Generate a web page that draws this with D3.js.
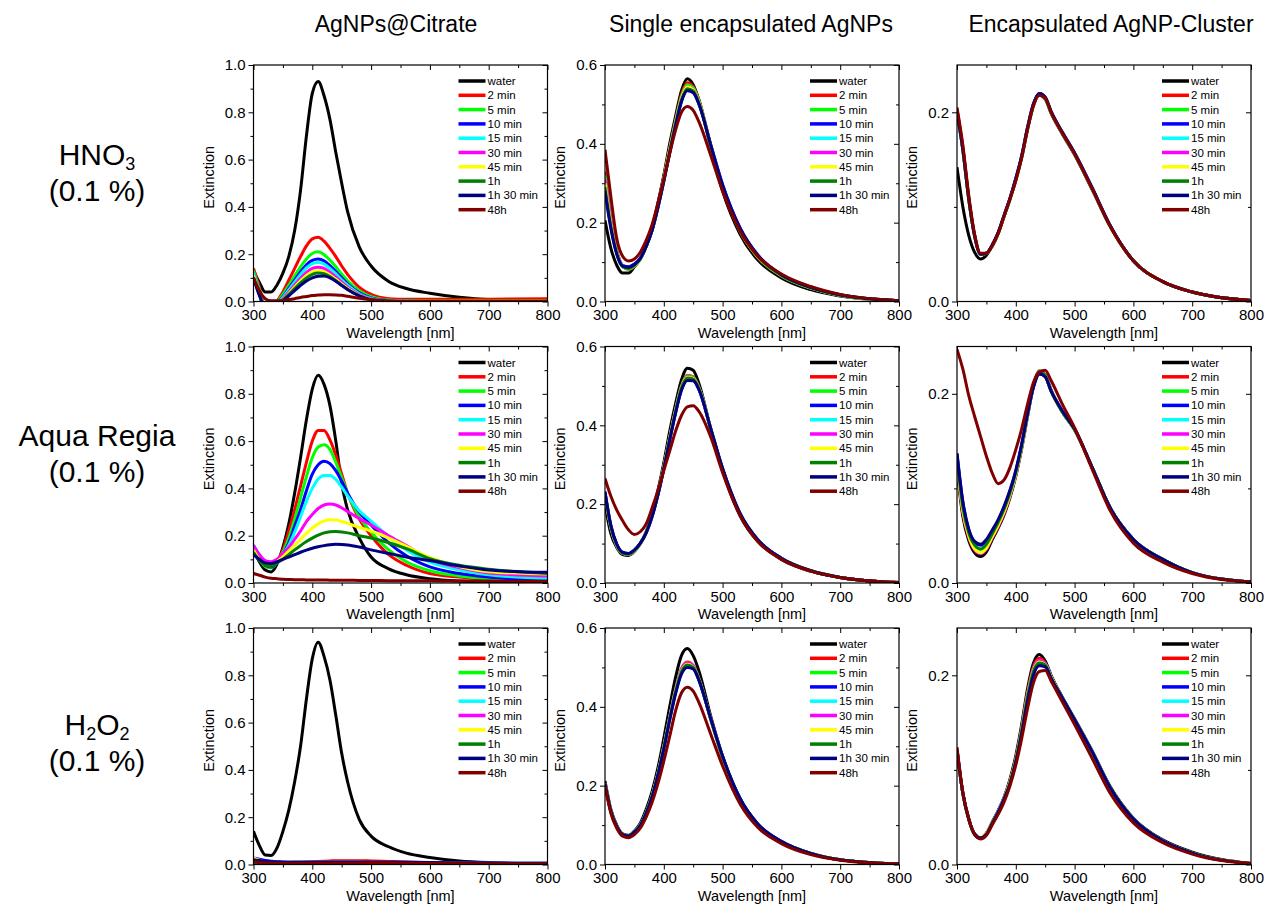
<!DOCTYPE html>
<html>
<head>
<meta charset="utf-8">
<script src="https://d3js.org/d3.v7.min.js"></script>
<style>
  body { margin: 0; background: #fff; }
  svg { font-family: "Liberation Sans", Arial, sans-serif; }
</style>
</head>
<body>
<svg width="1267" height="906"></svg>
<script>
// wavelength grid (nm) shared by every spectrum
const wavelengths = [300,310,320,330,340,350,360,370,380,390,400,410,420,430,440,450,460,480,500,530,560,600,650,700,800];
const legendLabels = ['water','2 min','5 min','10 min','15 min','30 min','45 min','1h','1h 30 min','48h'];
const columnTitles = ['AgNPs@Citrate','Single encapsulated AgNPs','Encapsulated AgNP-Cluster'];
const rowTitles = ['HNO_3','Aqua Regia','H_2O_2'];
const rowSubtitle = '(0.1 %)';
const xTicks = [300,400,500,600,700,800];

// ---- HNO3 row ----
const hno3Citrate = [
  [0.13,0.08,0.04,0.04,0.07,0.12,0.19,0.3,0.47,0.7,0.88,0.93,0.87,0.77,0.63,0.5,0.38,0.23,0.15,0.085,0.055,0.035,0.018,0.008,0.003],
  [0.14,0.06,-0.03,-0.04,0.0,0.04,0.09,0.14,0.19,0.235,0.265,0.272,0.255,0.225,0.19,0.15,0.115,0.06,0.03,0.012,0.009,0.01,0.01,0.01,0.012],
  [0.13,0.05,-0.03,-0.04,-0.005,0.03,0.068,0.108,0.147,0.18,0.203,0.21,0.198,0.175,0.147,0.116,0.088,0.045,0.02,0.006,0.003,0.002,0.002,0.002,0.002],
  [0.12,0.04,-0.03,-0.04,-0.01,0.02,0.055,0.09,0.125,0.155,0.174,0.18,0.172,0.152,0.127,0.1,0.075,0.037,0.015,0.004,0.001,0,0,0,0],
  [0.12,0.04,-0.03,-0.04,-0.012,0.017,0.049,0.082,0.114,0.142,0.16,0.165,0.158,0.14,0.117,0.092,0.069,0.033,0.013,0.003,0.001,0,0,0,0],
  [0.11,0.035,-0.03,-0.04,-0.015,0.012,0.04,0.07,0.098,0.123,0.14,0.145,0.14,0.124,0.104,0.082,0.061,0.029,0.011,0.002,0,0,0,0,0],
  [0.11,0.03,-0.03,-0.04,-0.017,0.008,0.034,0.061,0.087,0.11,0.125,0.13,0.126,0.112,0.094,0.074,0.055,0.026,0.009,0.002,0,0,0,0,0],
  [0.1,0.03,-0.03,-0.04,-0.018,0.006,0.03,0.055,0.079,0.1,0.115,0.12,0.117,0.105,0.088,0.069,0.051,0.024,0.008,0.001,0,0,0,0,0],
  [0.1,0.025,-0.03,-0.04,-0.02,0.002,0.024,0.046,0.068,0.087,0.1,0.107,0.108,0.1,0.086,0.068,0.051,0.024,0.008,0.001,0,0,0,0,0],
  [0.1,0.045,0.012,0.003,0.003,0.005,0.008,0.012,0.017,0.021,0.025,0.027,0.029,0.029,0.028,0.026,0.022,0.014,0.007,0.002,0,0,0,0,0]
];
const hno3Single = [
  [0.206,0.135,0.092,0.072,0.072,0.088,0.108,0.14,0.185,0.25,0.32,0.4,0.47,0.535,0.565,0.55,0.51,0.39,0.28,0.17,0.105,0.06,0.03,0.014,0.001],
  [0.33,0.21,0.13,0.09,0.082,0.09,0.108,0.14,0.183,0.245,0.315,0.39,0.46,0.525,0.555,0.545,0.51,0.395,0.29,0.178,0.112,0.065,0.034,0.016,0.002],
  [0.32,0.2,0.125,0.088,0.082,0.09,0.107,0.14,0.182,0.243,0.312,0.387,0.457,0.52,0.55,0.542,0.508,0.395,0.29,0.178,0.112,0.065,0.034,0.016,0.002],
  [0.3,0.195,0.125,0.092,0.088,0.095,0.11,0.14,0.18,0.238,0.305,0.378,0.447,0.508,0.535,0.53,0.5,0.397,0.297,0.186,0.118,0.068,0.036,0.017,0.002],
  [0.31,0.2,0.125,0.09,0.084,0.092,0.108,0.14,0.181,0.241,0.31,0.383,0.452,0.515,0.545,0.538,0.505,0.395,0.292,0.18,0.114,0.066,0.035,0.016,0.002],
  [0.31,0.198,0.124,0.089,0.083,0.091,0.108,0.14,0.181,0.241,0.31,0.384,0.453,0.516,0.545,0.538,0.505,0.395,0.291,0.179,0.113,0.066,0.035,0.016,0.002],
  [0.3,0.195,0.123,0.089,0.083,0.091,0.107,0.139,0.18,0.24,0.309,0.383,0.452,0.515,0.544,0.537,0.504,0.394,0.29,0.179,0.113,0.066,0.035,0.016,0.002],
  [0.29,0.19,0.122,0.089,0.084,0.092,0.108,0.139,0.18,0.239,0.307,0.38,0.449,0.511,0.54,0.534,0.502,0.394,0.291,0.18,0.114,0.066,0.035,0.016,0.002],
  [0.28,0.185,0.12,0.09,0.087,0.094,0.109,0.14,0.18,0.238,0.305,0.377,0.446,0.507,0.535,0.53,0.5,0.396,0.295,0.185,0.117,0.068,0.036,0.017,0.002],
  [0.385,0.265,0.16,0.115,0.103,0.108,0.125,0.155,0.195,0.25,0.31,0.375,0.435,0.48,0.495,0.485,0.455,0.37,0.28,0.178,0.115,0.07,0.038,0.018,0.002]
];
const hno3Cluster = [
  [0.142,0.1,0.07,0.052,0.045,0.049,0.059,0.072,0.09,0.108,0.128,0.152,0.182,0.207,0.218,0.214,0.199,0.176,0.155,0.118,0.08,0.043,0.021,0.01,0.001],
  [0.203,0.163,0.11,0.07,0.05,0.051,0.059,0.072,0.09,0.108,0.128,0.153,0.183,0.208,0.219,0.215,0.2,0.177,0.156,0.119,0.08,0.043,0.021,0.01,0.001],
  [0.2,0.16,0.108,0.069,0.05,0.051,0.059,0.072,0.09,0.108,0.129,0.153,0.183,0.208,0.219,0.215,0.2,0.177,0.156,0.119,0.08,0.043,0.021,0.01,0.001],
  [0.2,0.16,0.108,0.069,0.05,0.051,0.06,0.073,0.091,0.109,0.13,0.154,0.184,0.209,0.22,0.216,0.201,0.178,0.157,0.12,0.081,0.043,0.021,0.01,0.001],
  [0.2,0.16,0.108,0.069,0.05,0.051,0.059,0.072,0.09,0.108,0.129,0.153,0.183,0.208,0.219,0.215,0.2,0.177,0.156,0.119,0.08,0.043,0.021,0.01,0.001],
  [0.201,0.161,0.109,0.069,0.05,0.051,0.059,0.072,0.09,0.108,0.129,0.153,0.183,0.208,0.219,0.215,0.2,0.177,0.156,0.119,0.08,0.043,0.021,0.01,0.001],
  [0.2,0.16,0.108,0.069,0.05,0.051,0.059,0.072,0.09,0.108,0.129,0.153,0.183,0.208,0.219,0.215,0.2,0.177,0.156,0.119,0.08,0.043,0.021,0.01,0.001],
  [0.201,0.161,0.109,0.07,0.05,0.051,0.059,0.072,0.09,0.108,0.129,0.153,0.183,0.208,0.219,0.215,0.2,0.177,0.156,0.119,0.08,0.043,0.021,0.01,0.001],
  [0.2,0.16,0.108,0.069,0.05,0.051,0.06,0.073,0.091,0.109,0.13,0.154,0.184,0.209,0.22,0.216,0.201,0.178,0.157,0.12,0.081,0.043,0.021,0.01,0.001],
  [0.205,0.165,0.112,0.071,0.051,0.051,0.059,0.072,0.09,0.108,0.128,0.152,0.182,0.207,0.218,0.215,0.2,0.177,0.156,0.119,0.08,0.043,0.021,0.01,0.001]
];

// ---- Aqua Regia row ----
const arCitrate = [
  [0.136,0.09,0.055,0.047,0.08,0.15,0.25,0.38,0.53,0.69,0.82,0.878,0.84,0.75,0.6,0.42,0.31,0.19,0.11,0.06,0.035,0.018,0.008,0.004,0.002],
  [0.14,0.1,0.07,0.065,0.09,0.14,0.22,0.31,0.41,0.51,0.6,0.645,0.645,0.605,0.54,0.46,0.38,0.27,0.2,0.12,0.075,0.04,0.025,0.015,0.008],
  [0.14,0.1,0.07,0.065,0.085,0.13,0.19,0.27,0.36,0.45,0.53,0.575,0.585,0.565,0.51,0.445,0.38,0.28,0.215,0.14,0.09,0.052,0.03,0.018,0.01],
  [0.15,0.11,0.075,0.068,0.085,0.12,0.17,0.24,0.31,0.39,0.46,0.5,0.515,0.505,0.475,0.43,0.38,0.3,0.245,0.17,0.115,0.068,0.04,0.025,0.012],
  [0.16,0.12,0.085,0.075,0.09,0.12,0.16,0.215,0.28,0.345,0.4,0.44,0.455,0.455,0.438,0.405,0.368,0.305,0.262,0.195,0.14,0.088,0.055,0.035,0.02],
  [0.16,0.12,0.095,0.09,0.1,0.125,0.15,0.185,0.22,0.26,0.29,0.315,0.33,0.334,0.33,0.318,0.302,0.272,0.245,0.2,0.158,0.1,0.065,0.042,0.03],
  [0.14,0.1,0.08,0.075,0.09,0.11,0.135,0.16,0.185,0.21,0.232,0.25,0.262,0.267,0.266,0.26,0.252,0.235,0.22,0.19,0.155,0.108,0.07,0.048,0.038],
  [0.13,0.095,0.075,0.07,0.085,0.1,0.12,0.14,0.158,0.175,0.19,0.202,0.212,0.217,0.218,0.216,0.212,0.2,0.19,0.17,0.145,0.103,0.075,0.058,0.04],
  [0.12,0.1,0.085,0.082,0.09,0.1,0.11,0.12,0.13,0.139,0.147,0.153,0.158,0.162,0.164,0.163,0.161,0.152,0.14,0.125,0.11,0.095,0.072,0.055,0.045],
  [0.04,0.033,0.025,0.02,0.018,0.016,0.015,0.014,0.014,0.013,0.013,0.013,0.013,0.012,0.012,0.012,0.012,0.011,0.011,0.01,0.01,0.009,0.008,0.008,0.007]
];
const arSingle = [
  [0.2,0.125,0.09,0.072,0.07,0.08,0.1,0.13,0.175,0.235,0.305,0.385,0.455,0.515,0.545,0.54,0.505,0.39,0.285,0.17,0.105,0.06,0.03,0.014,0.001],
  [0.225,0.14,0.095,0.075,0.072,0.082,0.1,0.128,0.17,0.228,0.295,0.37,0.44,0.5,0.527,0.523,0.495,0.39,0.288,0.173,0.108,0.062,0.031,0.014,0.001],
  [0.225,0.14,0.095,0.075,0.072,0.082,0.1,0.128,0.17,0.227,0.294,0.369,0.439,0.499,0.526,0.522,0.495,0.39,0.288,0.173,0.108,0.062,0.031,0.014,0.001],
  [0.23,0.145,0.098,0.077,0.074,0.083,0.1,0.127,0.168,0.224,0.29,0.363,0.432,0.49,0.515,0.514,0.49,0.39,0.29,0.175,0.109,0.063,0.031,0.014,0.001],
  [0.228,0.142,0.096,0.076,0.073,0.082,0.1,0.128,0.169,0.226,0.292,0.366,0.436,0.495,0.522,0.519,0.493,0.39,0.289,0.174,0.108,0.062,0.031,0.014,0.001],
  [0.226,0.141,0.095,0.075,0.072,0.082,0.1,0.128,0.17,0.227,0.294,0.368,0.438,0.497,0.524,0.52,0.494,0.39,0.288,0.173,0.108,0.062,0.031,0.014,0.001],
  [0.227,0.142,0.096,0.076,0.073,0.082,0.1,0.128,0.169,0.226,0.293,0.367,0.437,0.496,0.522,0.519,0.493,0.39,0.289,0.174,0.108,0.062,0.031,0.014,0.001],
  [0.228,0.143,0.097,0.076,0.073,0.082,0.1,0.128,0.169,0.225,0.292,0.365,0.435,0.494,0.52,0.517,0.492,0.39,0.289,0.174,0.108,0.062,0.031,0.014,0.001],
  [0.232,0.146,0.099,0.078,0.075,0.084,0.101,0.127,0.168,0.223,0.289,0.362,0.431,0.489,0.514,0.513,0.49,0.391,0.291,0.176,0.11,0.063,0.031,0.014,0.001],
  [0.265,0.22,0.185,0.158,0.135,0.123,0.13,0.15,0.19,0.235,0.285,0.335,0.385,0.425,0.447,0.45,0.435,0.37,0.28,0.17,0.105,0.06,0.03,0.014,0.001]
];
const arCluster = [
  [0.12,0.07,0.045,0.032,0.028,0.033,0.046,0.058,0.072,0.09,0.113,0.142,0.176,0.208,0.224,0.22,0.204,0.18,0.162,0.122,0.08,0.046,0.025,0.011,0.001],
  [0.125,0.074,0.048,0.035,0.031,0.036,0.048,0.06,0.074,0.092,0.115,0.144,0.177,0.208,0.223,0.219,0.203,0.18,0.162,0.122,0.08,0.046,0.025,0.011,0.001],
  [0.127,0.076,0.05,0.037,0.033,0.038,0.05,0.062,0.076,0.093,0.116,0.145,0.178,0.208,0.223,0.219,0.203,0.18,0.162,0.122,0.08,0.046,0.025,0.011,0.001],
  [0.137,0.085,0.056,0.043,0.04,0.045,0.055,0.066,0.08,0.097,0.118,0.146,0.178,0.207,0.221,0.218,0.203,0.181,0.163,0.122,0.08,0.046,0.025,0.011,0.001],
  [0.13,0.078,0.051,0.038,0.034,0.039,0.051,0.063,0.077,0.094,0.116,0.145,0.178,0.208,0.223,0.219,0.203,0.18,0.162,0.122,0.08,0.046,0.025,0.011,0.001],
  [0.126,0.075,0.049,0.035,0.031,0.036,0.048,0.06,0.074,0.092,0.115,0.144,0.177,0.208,0.223,0.219,0.203,0.18,0.162,0.122,0.08,0.046,0.025,0.011,0.001],
  [0.128,0.076,0.05,0.036,0.032,0.037,0.049,0.061,0.075,0.093,0.115,0.144,0.177,0.208,0.223,0.219,0.203,0.18,0.162,0.122,0.08,0.046,0.025,0.011,0.001],
  [0.132,0.08,0.053,0.04,0.036,0.041,0.052,0.064,0.078,0.095,0.117,0.145,0.178,0.208,0.223,0.219,0.203,0.18,0.162,0.122,0.08,0.046,0.025,0.011,0.001],
  [0.137,0.086,0.057,0.044,0.041,0.046,0.056,0.067,0.081,0.098,0.119,0.147,0.179,0.207,0.221,0.218,0.203,0.181,0.163,0.122,0.08,0.046,0.025,0.011,0.001],
  [0.247,0.226,0.198,0.176,0.155,0.134,0.116,0.105,0.109,0.122,0.141,0.163,0.189,0.212,0.223,0.225,0.214,0.188,0.164,0.12,0.077,0.042,0.022,0.01,0.001]
];

// ---- H2O2 row ----
const h2o2Citrate = [
  [0.14,0.08,0.04,0.038,0.07,0.14,0.23,0.35,0.5,0.7,0.87,0.94,0.88,0.78,0.63,0.47,0.35,0.19,0.12,0.075,0.048,0.03,0.015,0.008,0.003],
  [0.008,0.007,0.006,0.006,0.006,0.007,0.008,0.009,0.01,0.011,0.012,0.013,0.014,0.015,0.016,0.016,0.016,0.016,0.015,0.013,0.011,0.008,0.005,0.004,0.003],
  [0.006,0.005,0.005,0.005,0.005,0.005,0.005,0.005,0.005,0.005,0.005,0.005,0.005,0.005,0.005,0.005,0.005,0.005,0.005,0.005,0.005,0.004,0.004,0.004,0.004],
  [0.028,0.022,0.017,0.014,0.012,0.011,0.01,0.01,0.01,0.01,0.01,0.01,0.01,0.009,0.009,0.009,0.009,0.009,0.008,0.008,0.008,0.007,0.006,0.005,0.005],
  [0.012,0.011,0.01,0.009,0.009,0.009,0.009,0.009,0.009,0.009,0.009,0.009,0.009,0.009,0.009,0.009,0.009,0.009,0.008,0.008,0.008,0.007,0.006,0.005,0.005],
  [0.008,0.007,0.007,0.007,0.007,0.007,0.007,0.007,0.007,0.007,0.007,0.007,0.007,0.007,0.007,0.007,0.007,0.007,0.007,0.007,0.006,0.006,0.005,0.005,0.004],
  [0.028,0.018,0.01,0.007,0.006,0.006,0.006,0.006,0.006,0.006,0.006,0.006,0.006,0.006,0.006,0.006,0.006,0.006,0.006,0.006,0.006,0.005,0.005,0.003,0.003],
  [0.005,0.005,0.004,0.004,0.004,0.004,0.004,0.004,0.004,0.004,0.004,0.004,0.004,0.004,0.004,0.004,0.004,0.004,0.004,0.004,0.004,0.004,0.004,0.003,0.003],
  [0.02,0.017,0.014,0.012,0.011,0.01,0.01,0.01,0.01,0.01,0.01,0.01,0.01,0.01,0.01,0.01,0.01,0.01,0.01,0.009,0.009,0.008,0.007,0.006,0.005],
  [0.012,0.008,0.006,0.005,0.005,0.005,0.005,0.005,0.005,0.005,0.005,0.005,0.005,0.005,0.005,0.005,0.005,0.005,0.005,0.005,0.004,0.004,0.004,0.003,0.003]
];
const h2o2Single = [
  [0.212,0.14,0.1,0.078,0.074,0.085,0.105,0.14,0.185,0.245,0.32,0.4,0.475,0.53,0.548,0.53,0.49,0.375,0.275,0.165,0.1,0.057,0.027,0.012,0.001],
  [0.205,0.135,0.096,0.076,0.072,0.082,0.1,0.132,0.175,0.232,0.3,0.375,0.445,0.497,0.514,0.505,0.47,0.368,0.272,0.165,0.101,0.058,0.028,0.012,0.001],
  [0.205,0.135,0.096,0.076,0.072,0.082,0.1,0.132,0.174,0.231,0.299,0.374,0.443,0.495,0.512,0.504,0.47,0.368,0.272,0.165,0.101,0.058,0.028,0.012,0.001],
  [0.205,0.135,0.096,0.076,0.072,0.082,0.1,0.131,0.173,0.229,0.296,0.369,0.437,0.488,0.505,0.499,0.467,0.368,0.273,0.166,0.102,0.058,0.028,0.012,0.001],
  [0.205,0.135,0.096,0.076,0.072,0.082,0.1,0.132,0.174,0.23,0.298,0.372,0.441,0.493,0.51,0.502,0.469,0.368,0.272,0.165,0.101,0.058,0.028,0.012,0.001],
  [0.205,0.135,0.096,0.076,0.072,0.082,0.1,0.132,0.174,0.231,0.299,0.374,0.443,0.495,0.512,0.504,0.47,0.368,0.272,0.165,0.101,0.058,0.028,0.012,0.001],
  [0.205,0.135,0.096,0.076,0.072,0.082,0.1,0.131,0.173,0.23,0.297,0.371,0.44,0.491,0.508,0.501,0.468,0.368,0.272,0.165,0.101,0.058,0.028,0.012,0.001],
  [0.205,0.135,0.096,0.076,0.072,0.082,0.1,0.131,0.173,0.229,0.296,0.37,0.438,0.489,0.506,0.5,0.468,0.368,0.273,0.166,0.102,0.058,0.028,0.012,0.001],
  [0.205,0.135,0.096,0.076,0.072,0.082,0.099,0.13,0.171,0.227,0.293,0.366,0.433,0.483,0.5,0.496,0.466,0.369,0.275,0.167,0.103,0.059,0.028,0.012,0.001],
  [0.2,0.13,0.092,0.072,0.068,0.076,0.092,0.12,0.157,0.205,0.262,0.325,0.39,0.435,0.45,0.44,0.41,0.33,0.25,0.153,0.094,0.053,0.025,0.011,0.001]
];
const h2o2Cluster = [
  [0.121,0.075,0.048,0.032,0.028,0.033,0.045,0.057,0.071,0.09,0.115,0.148,0.186,0.213,0.222,0.215,0.2,0.176,0.154,0.12,0.083,0.049,0.026,0.013,0.001],
  [0.121,0.075,0.048,0.032,0.028,0.033,0.044,0.056,0.07,0.088,0.112,0.145,0.182,0.209,0.218,0.213,0.199,0.175,0.153,0.119,0.082,0.048,0.025,0.012,0.001],
  [0.121,0.075,0.048,0.032,0.028,0.033,0.044,0.056,0.07,0.087,0.111,0.143,0.18,0.207,0.216,0.212,0.198,0.175,0.153,0.119,0.082,0.048,0.025,0.012,0.001],
  [0.121,0.075,0.048,0.032,0.028,0.032,0.044,0.055,0.069,0.086,0.109,0.14,0.176,0.203,0.212,0.21,0.197,0.175,0.153,0.119,0.082,0.048,0.025,0.012,0.001],
  [0.121,0.075,0.048,0.032,0.028,0.033,0.044,0.056,0.07,0.087,0.11,0.142,0.179,0.206,0.215,0.212,0.198,0.175,0.153,0.119,0.082,0.048,0.025,0.012,0.001],
  [0.121,0.075,0.048,0.032,0.028,0.033,0.044,0.056,0.07,0.087,0.111,0.143,0.18,0.207,0.216,0.212,0.198,0.175,0.153,0.119,0.082,0.048,0.025,0.012,0.001],
  [0.121,0.075,0.048,0.032,0.028,0.033,0.044,0.055,0.069,0.087,0.11,0.141,0.178,0.205,0.214,0.211,0.198,0.175,0.153,0.119,0.082,0.048,0.025,0.012,0.001],
  [0.121,0.075,0.048,0.032,0.028,0.032,0.044,0.055,0.069,0.086,0.11,0.141,0.177,0.204,0.213,0.211,0.197,0.175,0.153,0.119,0.082,0.048,0.025,0.012,0.001],
  [0.121,0.075,0.048,0.032,0.028,0.032,0.043,0.055,0.069,0.085,0.108,0.138,0.173,0.2,0.21,0.209,0.197,0.175,0.153,0.119,0.082,0.048,0.025,0.012,0.001],
  [0.124,0.076,0.048,0.032,0.027,0.031,0.042,0.053,0.066,0.083,0.105,0.133,0.165,0.192,0.204,0.205,0.194,0.171,0.148,0.112,0.076,0.044,0.023,0.011,0.001]
];

const panels = [
  [hno3Citrate, hno3Single, hno3Cluster],
  [arCitrate, arSingle, arCluster],
  [h2o2Citrate, h2o2Single, h2o2Cluster]
];
const yMaxByCol = [1.0, 0.6, 0.25];

// styles
const lineColors = ['#000000','#ff0000','#00ff00','#0000ff','#00ffff','#ff00ff','#ffff00','#008000','#000080','#800000'];
const colX = [253.5, 605, 957];
const rowY = [65, 346.5, 628];
const pw = 294, ph = 236.5;

const svg = d3.select('svg');
const defs = svg.append('defs');

const x = d3.scaleLinear().domain([300, 800]).range([0, pw]);

panels.forEach((row, r) => {
  row.forEach((series, c) => {
    const g = svg.append('g').attr('transform', `translate(${colX[c]},${rowY[r]})`);
    const yMax = yMaxByCol[c];
    const y = d3.scaleLinear().domain([0, yMax]).range([ph, 0]);

    const clipId = `clip-${r}-${c}`;
    defs.append('clipPath').attr('id', clipId)
      .append('rect').attr('width', pw).attr('height', ph);

    const line = d3.line()
      .x((d, i) => x(wavelengths[i]))
      .y(d => y(d))
      .curve(d3.curveMonotoneX);

    const plot = g.append('g').attr('clip-path', `url(#${clipId})`);
    series.forEach((vals, i) => {
      plot.append('path')
        .datum(vals)
        .attr('d', line)
        .attr('fill', 'none')
        .attr('stroke', lineColors[i])
        .attr('stroke-width', 3)
        .attr('stroke-linejoin', 'round');
    });

    // axes (origin-like: outer ticks left/bottom, inner ticks top/right)
    const yMajor = d3.range(0, yMax + 1e-9, 0.2);
    const yMinor = d3.range(0.1, yMax + 1e-9, 0.2);
    const xMinor = [350, 450, 550, 650, 750];

    const styleAxis = sel => {
      sel.select('.domain').remove();
      sel.selectAll('line').attr('stroke', '#000').attr('stroke-width', 1);
      sel.selectAll('text').attr('font-size', 15).attr('fill', '#000')
        .attr('font-family', '"Liberation Sans", Arial, sans-serif');
    };

    g.append('g').call(d3.axisLeft(y).tickValues(yMajor).tickSize(5).tickPadding(3).tickFormat(d3.format('.1f'))).call(styleAxis);
    g.append('g').call(d3.axisLeft(y).tickValues(yMinor).tickSize(3).tickFormat('')).call(styleAxis);
    g.append('g').attr('transform', `translate(${pw},0)`).call(d3.axisLeft(y).tickValues(yMajor).tickSize(5).tickFormat('')).call(styleAxis);
    g.append('g').attr('transform', `translate(${pw},0)`).call(d3.axisLeft(y).tickValues(yMinor).tickSize(3).tickFormat('')).call(styleAxis);

    g.append('g').attr('transform', `translate(0,${ph})`).call(d3.axisBottom(x).tickValues(xTicks).tickSize(5).tickPadding(3).tickFormat(d3.format('d'))).call(styleAxis);
    g.append('g').attr('transform', `translate(0,${ph})`).call(d3.axisBottom(x).tickValues(xMinor).tickSize(3).tickFormat('')).call(styleAxis);
    g.append('g').call(d3.axisBottom(x).tickValues(xTicks).tickSize(5).tickFormat('')).call(styleAxis);
    g.append('g').call(d3.axisBottom(x).tickValues(xMinor).tickSize(3).tickFormat('')).call(styleAxis);

    g.append('rect').attr('width', pw).attr('height', ph)
      .attr('fill', 'none').attr('stroke', '#000').attr('stroke-width', 1.2);

    // axis titles
    g.append('text')
      .attr('transform', `translate(-40,${ph / 2 - 6}) rotate(-90)`)
      .attr('text-anchor', 'middle').attr('font-size', 14.5)
      .text('Extinction');
    g.append('text')
      .attr('x', pw / 2).attr('y', ph + 36)
      .attr('text-anchor', 'middle').attr('font-size', 14.5)
      .text('Wavelength [nm]');

    // legend
    const leg = g.append('g').attr('transform', 'translate(205,16)');
    legendLabels.forEach((lab, i) => {
      const item = leg.append('g').attr('transform', `translate(0,${i * 14.3})`);
      item.append('line').attr('x1', 0).attr('x2', 27).attr('y1', 0).attr('y2', 0)
        .attr('stroke', lineColors[i]).attr('stroke-width', 3.5);
      item.append('text').attr('x', 29).attr('y', 4)
        .attr('font-size', 11.5).text(lab);
    });
  });
});

// column titles
const colTitleX = [396, 751, 1111];
columnTitles.forEach((t, i) => {
  svg.append('text').attr('x', colTitleX[i]).attr('y', 32)
    .attr('text-anchor', 'middle').attr('font-size', 23).text(t);
});

// row titles, digits after "_" are subscripts
const rowTitleY = [165, 446, 735];
rowTitles.forEach((t, i) => {
  const txt = svg.append('text').attr('x', 97).attr('y', rowTitleY[i])
    .attr('text-anchor', 'middle').attr('font-size', 30);
  let shifted = false;
  t.split(/(_\d)/).filter(s => s.length).forEach(part => {
    if (part[0] === '_') {
      txt.append('tspan').attr('font-size', 18).attr('dy', shifted ? 0 : 5).text(part.slice(1));
      shifted = true;
    } else {
      txt.append('tspan').attr('dy', shifted ? -5 : 0).text(part);
      shifted = false;
    }
  });
  svg.append('text').attr('x', 97).attr('y', rowTitleY[i] + 36)
    .attr('text-anchor', 'middle').attr('font-size', 30).text(rowSubtitle);
});
</script>
</body>
</html>
